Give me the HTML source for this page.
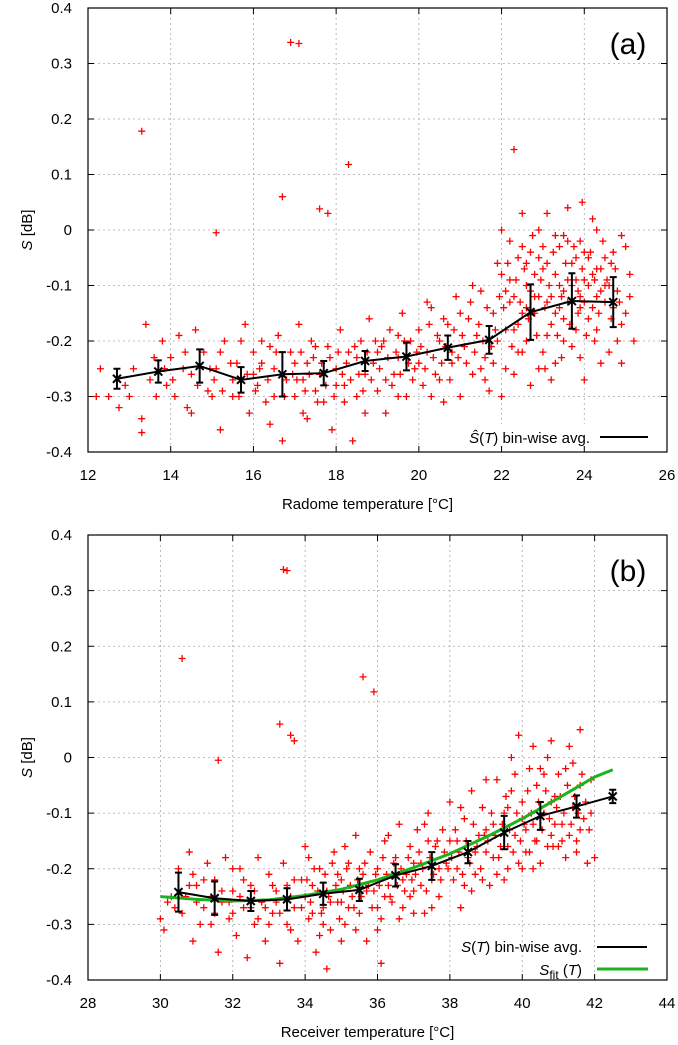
<!DOCTYPE html>
<html><head><meta charset="utf-8"><style>
html,body{margin:0;padding:0;background:#fff;}
svg{display:block;font-family:"Liberation Sans",sans-serif;}
</style></head><body>
<svg id="fig" width="678" height="1045"></svg>
<script>
// ---------- data ----------
const binXA=[12.7,13.7,14.7,15.7,16.7,17.7,18.7,19.7,20.7,21.7,22.7,23.7,24.7];
const binYA=[-0.268,-0.255,-0.245,-0.27,-0.26,-0.258,-0.236,-0.228,-0.212,-0.198,-0.148,-0.128,-0.13];
const binEA=[0.018,0.02,0.03,0.023,0.04,0.022,0.018,0.025,0.022,0.025,0.05,0.05,0.045];
const binXB=[30.5,31.5,32.5,33.5,34.5,35.5,36.5,37.5,38.5,39.5,40.5,41.5,42.5];
const binYB=[-0.242,-0.253,-0.258,-0.255,-0.245,-0.238,-0.212,-0.195,-0.17,-0.135,-0.105,-0.088,-0.07];
const binEB=[0.035,0.03,0.018,0.02,0.02,0.02,0.02,0.025,0.02,0.03,0.025,0.02,0.012];
const fitX=[30,31,32,33,34,35,36,37,38,39,40,41,42,42.5];
const fitY=[-0.25,-0.255,-0.258,-0.256,-0.248,-0.237,-0.22,-0.198,-0.173,-0.143,-0.11,-0.073,-0.035,-0.022];
const yTicks=[0.4,0.3,0.2,0.1,0,-0.1,-0.2,-0.3,-0.4];
const yTickLabels=["0.4","0.3","0.2","0.1","0","-0.1","-0.2","-0.3","-0.4"];
const xTicksA=[12,14,16,18,20,22,24,26];
const xTicksB=[28,30,32,34,36,38,40,42,44];
const scatterA="12.3,-0.25;12.5,-0.3;12.2,-0.3;12.9,-0.28;13.0,-0.3;13.3,-0.34;13.3,-0.365;13.4,-0.17;13.6,-0.23;13.8,-0.2;13.9,-0.28;14.1,-0.3;14.3,-0.25;14.4,-0.32;14.6,-0.18;14.5,-0.33;14.8,-0.22;14.9,-0.29;15.1,-0.25;15.2,-0.36;15.3,-0.2;15.5,-0.3;15.6,-0.24;15.8,-0.17;15.9,-0.33;16.0,-0.22;16.1,-0.28;16.2,-0.2;16.3,-0.31;16.4,-0.35;16.5,-0.25;16.6,-0.19;16.7,-0.38;16.8,-0.27;16.9,-0.22;17.0,-0.3;17.1,-0.17;17.2,-0.33;17.3,-0.24;17.4,-0.2;17.5,-0.29;17.6,-0.26;17.7,-0.31;17.8,-0.21;17.9,-0.36;18.0,-0.25;18.1,-0.18;18.2,-0.28;18.3,-0.22;18.4,-0.38;18.5,-0.3;18.6,-0.2;18.7,-0.26;18.8,-0.16;18.9,-0.24;19.0,-0.29;19.1,-0.21;19.2,-0.33;19.3,-0.18;19.4,-0.26;19.5,-0.23;19.6,-0.15;19.7,-0.3;19.8,-0.2;19.9,-0.25;20.0,-0.18;20.1,-0.28;20.2,-0.22;20.3,-0.14;20.4,-0.26;20.5,-0.2;20.6,-0.31;20.7,-0.17;20.8,-0.24;20.9,-0.12;21.0,-0.3;21.1,-0.21;21.2,-0.16;21.3,-0.26;21.4,-0.19;21.5,-0.11;21.6,-0.23;21.7,-0.29;21.8,-0.15;21.9,-0.2;22.0,-0.08;22.1,-0.25;22.2,-0.13;22.3,-0.18;22.4,-0.05;22.5,-0.22;22.6,-0.1;22.7,-0.28;22.8,-0.15;22.9,0.0;23.0,-0.07;23.1,-0.19;23.2,-0.12;23.3,-0.24;23.4,-0.03;23.5,-0.16;23.6,-0.09;23.7,-0.21;23.8,-0.05;23.9,-0.14;24.0,-0.27;24.1,-0.1;24.2,0.02;24.3,-0.18;24.4,-0.07;24.5,-0.13;24.6,-0.22;24.7,-0.04;24.8,-0.11;24.9,-0.17;25.0,-0.03;25.1,-0.08;22.2,-0.02;22.6,-0.2;22.9,-0.12;23.1,-0.06;23.3,-0.15;23.5,-0.2;23.7,-0.1;23.9,-0.02;24.1,-0.16;24.3,-0.12;24.5,-0.05;22.4,-0.17;22.8,-0.08;23.2,-0.27;23.6,-0.13;24.0,-0.09;24.4,-0.24;22.7,-0.04;23.4,-0.1;24.2,-0.14;23.0,-0.22;23.8,-0.18;21.5,-0.25;21.0,-0.15;20.5,-0.27;19.5,-0.19;18.5,-0.23;17.5,-0.21;16.5,-0.3;15.5,-0.27;14.5,-0.26;13.5,-0.27;20.8,-0.22;21.8,-0.24;19.2,-0.27;18.2,-0.31;17.2,-0.27;16.2,-0.24;15.2,-0.22;14.2,-0.19;22.1,-0.11;22.5,-0.03;23.1,0.03;23.9,-0.23;24.6,-0.1;24.8,-0.2;25.0,-0.15;22.3,-0.26;23.5,-0.01;24.3,0.0;20.0,-0.24;20.3,-0.3;19.0,-0.22;18.0,-0.28;17.0,-0.24;16.0,-0.26;15.0,-0.3;14.0,-0.23;13.1,-0.25;13.3,0.178;16.9,0.338;17.1,0.336;18.3,0.118;16.7,0.06;17.6,0.038;17.8,0.03;15.1,-0.005;22.3,0.145";
const scatterA2="22.05,-0.14;22.15,-0.06;22.25,-0.21;22.35,-0.09;22.45,-0.13;22.55,-0.07;22.65,-0.16;22.75,-0.01;22.85,-0.19;22.95,-0.09;23.05,-0.14;23.15,-0.1;23.25,-0.04;23.35,-0.19;23.45,-0.12;23.55,-0.06;23.65,-0.17;23.75,-0.03;23.85,-0.11;23.95,-0.07;24.05,-0.19;24.15,-0.04;24.25,-0.09;24.35,-0.15;24.45,-0.02;24.55,-0.09;24.65,-0.16;24.75,-0.07;24.85,-0.13;22.1,-0.18;22.3,-0.12;22.5,-0.15;22.7,-0.11;22.9,-0.05;23.1,-0.13;23.3,-0.08;23.5,-0.11;23.7,-0.06;23.9,-0.12;24.1,-0.05;24.3,-0.07;24.5,-0.1;24.7,-0.14;23.0,-0.03;23.2,-0.17;23.4,-0.14;23.6,-0.02;23.8,-0.09;24.0,-0.13;24.2,-0.08;24.4,-0.11;22.2,-0.09;22.4,-0.22;22.6,-0.06;22.8,-0.12;23.05,-0.25;23.45,-0.23;23.85,-0.15;24.25,-0.2;24.65,-0.06;22.6,-0.14;23.3,-0.01;24.0,-0.04;21.05,-0.19;21.15,-0.24;21.25,-0.13;21.35,-0.22;21.45,-0.17;21.55,-0.2;21.65,-0.14;21.75,-0.21;21.85,-0.18;21.95,-0.12;20.05,-0.21;20.15,-0.25;20.25,-0.17;20.35,-0.23;20.45,-0.19;20.55,-0.24;20.65,-0.21;20.75,-0.27;20.85,-0.18;20.95,-0.23;19.05,-0.25;19.15,-0.2;19.25,-0.23;19.35,-0.28;19.45,-0.22;19.55,-0.26;19.65,-0.2;19.75,-0.24;19.85,-0.27;19.95,-0.22;18.05,-0.22;18.15,-0.26;18.25,-0.24;18.35,-0.27;18.45,-0.21;18.55,-0.26;18.65,-0.29;18.75,-0.22;18.85,-0.27;18.95,-0.2;17.05,-0.27;17.15,-0.22;17.25,-0.29;17.35,-0.26;17.45,-0.23;17.55,-0.31;17.65,-0.24;17.75,-0.28;17.85,-0.23;17.95,-0.3;16.05,-0.29;16.15,-0.25;16.35,-0.27;16.55,-0.22;16.75,-0.3;16.95,-0.26;15.05,-0.27;15.25,-0.29;15.45,-0.24;15.65,-0.3;15.85,-0.26;14.05,-0.27;14.35,-0.22;14.65,-0.28;14.95,-0.25;13.65,-0.3;13.85,-0.25;12.75,-0.32;21.3,-0.1;21.6,-0.27;20.2,-0.13;20.6,-0.16;19.5,-0.3;18.7,-0.33;17.3,-0.34;16.4,-0.21;15.7,-0.2;22.0,-0.3;22.9,-0.25;24.9,-0.24;25.1,-0.12;25.2,-0.2;24.9,-0.01;22.5,0.03;23.6,0.04;23.95,0.05;22.0,0.0;21.9,-0.06";
const scatterB="30.0,-0.29;30.1,-0.31;30.3,-0.25;30.5,-0.2;30.6,-0.28;30.8,-0.17;30.9,-0.33;31.0,-0.23;31.2,-0.27;31.3,-0.19;31.4,-0.3;31.5,-0.22;31.6,-0.35;31.7,-0.26;31.8,-0.18;31.9,-0.29;32.0,-0.24;32.1,-0.32;32.2,-0.2;32.3,-0.27;32.4,-0.36;32.5,-0.23;32.6,-0.3;32.7,-0.18;32.8,-0.26;32.9,-0.33;33.0,-0.21;33.1,-0.28;33.2,-0.24;33.3,-0.37;33.4,-0.19;33.5,-0.3;33.6,-0.25;33.7,-0.22;33.8,-0.33;33.9,-0.27;34.0,-0.16;34.1,-0.29;34.2,-0.23;34.3,-0.35;34.4,-0.2;34.5,-0.27;34.6,-0.24;34.7,-0.31;34.8,-0.17;34.9,-0.26;35.0,-0.22;35.1,-0.3;35.2,-0.19;35.3,-0.25;35.4,-0.14;35.5,-0.28;35.6,-0.21;35.7,-0.33;35.8,-0.17;35.9,-0.24;36.0,-0.2;36.1,-0.29;36.2,-0.15;36.3,-0.23;36.4,-0.26;36.5,-0.18;36.6,-0.12;36.7,-0.27;36.8,-0.21;36.9,-0.16;37.0,-0.24;37.1,-0.13;37.2,-0.19;37.3,-0.28;37.4,-0.1;37.5,-0.22;37.6,-0.16;37.7,-0.25;37.8,-0.13;37.9,-0.19;38.0,-0.08;38.1,-0.22;38.2,-0.15;38.3,-0.27;38.4,-0.11;38.5,-0.18;38.6,-0.06;38.7,-0.21;38.8,-0.14;38.9,-0.09;39.0,-0.17;39.1,-0.23;39.2,-0.12;39.3,-0.04;39.4,-0.16;39.5,-0.1;39.6,-0.2;39.7,-0.06;39.8,-0.14;39.9,0.04;40.0,-0.08;40.1,-0.17;40.2,-0.02;40.3,-0.12;40.4,-0.05;40.5,-0.19;40.6,-0.1;40.7,0.0;40.8,-0.14;40.9,-0.07;41.0,-0.03;41.1,-0.12;41.2,-0.18;41.3,0.02;41.4,-0.09;41.5,-0.15;41.6,-0.05;41.7,-0.11;41.8,-0.19;41.9,-0.04;40.3,-0.2;40.6,-0.03;41.0,-0.16;41.4,-0.01;39.5,-0.22;39.8,-0.03;40.1,-0.13;40.8,-0.08;41.3,-0.14;39.2,-0.18;38.7,-0.17;38.2,-0.2;37.7,-0.2;37.2,-0.23;36.7,-0.22;36.2,-0.25;35.7,-0.24;35.2,-0.27;34.7,-0.26;34.2,-0.28;33.7,-0.27;33.2,-0.26;32.7,-0.29;32.2,-0.25;31.7,-0.24;31.2,-0.22;30.7,-0.25;36.0,-0.31;35.5,-0.2;34.5,-0.3;33.5,-0.23;32.5,-0.27;37.0,-0.19;38.0,-0.15;39.0,-0.13;40.0,-0.11;41.6,-0.13;40.4,-0.15;39.6,-0.16;38.4,-0.23;37.4,-0.15;36.4,-0.21;35.0,-0.26;34.0,-0.25;33.0,-0.3;32.0,-0.2;31.0,-0.26;30.4,-0.27;30.6,0.178;33.4,0.338;33.5,0.336;35.9,0.118;35.6,0.145;33.3,0.06;33.6,0.04;33.7,0.03;31.6,-0.005;36.1,-0.37;34.6,-0.38";
const scatterB2="34.05,-0.22;34.15,-0.26;34.25,-0.2;34.35,-0.24;34.45,-0.28;34.55,-0.21;34.65,-0.25;34.75,-0.19;34.85,-0.23;34.95,-0.29;35.05,-0.24;35.15,-0.2;35.25,-0.23;35.35,-0.27;35.45,-0.22;35.55,-0.25;35.65,-0.19;35.75,-0.23;35.85,-0.27;35.95,-0.21;36.05,-0.23;36.15,-0.18;36.25,-0.21;36.35,-0.25;36.45,-0.19;36.55,-0.23;36.65,-0.2;36.75,-0.24;36.85,-0.18;36.95,-0.22;37.05,-0.21;37.15,-0.17;37.25,-0.2;37.35,-0.24;37.45,-0.18;37.55,-0.21;37.65,-0.15;37.75,-0.22;37.85,-0.17;37.95,-0.2;38.05,-0.18;38.15,-0.13;38.25,-0.17;38.35,-0.21;38.45,-0.15;38.55,-0.19;38.65,-0.12;38.75,-0.16;38.85,-0.2;38.95,-0.14;39.05,-0.15;39.15,-0.1;39.25,-0.14;39.35,-0.18;39.45,-0.12;39.55,-0.07;39.65,-0.13;39.75,-0.17;39.85,-0.1;39.95,-0.15;40.05,-0.12;40.15,-0.06;40.25,-0.1;40.35,-0.15;40.45,-0.08;40.55,-0.13;40.65,-0.06;40.75,-0.11;40.85,-0.16;40.95,-0.09;41.05,-0.07;41.15,-0.1;41.25,-0.05;41.35,-0.12;41.45,-0.07;41.55,-0.1;41.65,-0.03;41.75,-0.08;41.85,-0.13;40.2,-0.17;40.5,-0.02;40.9,-0.12;41.2,-0.02;39.6,-0.09;39.9,-0.19;40.7,-0.16;41.5,-0.17;39.3,-0.21;38.6,-0.24;37.5,-0.27;36.6,-0.29;35.4,-0.31;34.4,-0.32;33.6,-0.31;32.9,-0.27;32.3,-0.22;31.9,-0.26;31.5,-0.28;31.1,-0.3;30.8,-0.23;30.2,-0.26;33.1,-0.23;33.9,-0.22;32.6,-0.24;31.4,-0.25;30.9,-0.21;32.0,-0.28;33.3,-0.28;34.1,-0.18;35.1,-0.16;36.3,-0.14;37.3,-0.12;38.3,-0.09;39.0,-0.04;37.0,-0.28;36.0,-0.27;35.0,-0.33;34.9,-0.21;36.9,-0.25;38.9,-0.22;40.0,-0.2;41.1,-0.15;41.9,-0.1;42.0,-0.18;40.3,0.02;40.8,0.03;41.6,0.05;39.7,0.0";

// ---------- drawing ----------
const NS="http://www.w3.org/2000/svg";
const svg=document.getElementById('fig');
function mk(tag,attrs,parent){const e=document.createElementNS(NS,tag);for(const k in attrs)e.setAttribute(k,attrs[k]);(parent||svg).appendChild(e);return e;}
const L=88,R=667;
function parse(s){return s.split(';').map(p=>p.split(',').map(Number));}

function panel(cfg){
  const g=mk('g',{});
  
  
  const xs=v=>L+(v-cfg.x0)/(cfg.x1-cfg.x0)*(R-L);
  const ys=v=>cfg.bot-(v+0.4)/0.8*(cfg.bot-cfg.top);
  cfg.xt.forEach(t=>{const x=xs(t);
    if(t>cfg.x0&&t<cfg.x1){const l=mk('line',{x1:x,x2:x,y1:cfg.top,y2:cfg.bot,stroke:'#aaa','stroke-dasharray':'2,3','stroke-width':0.8},g);
      }
    const tl=mk('text',{x:x,y:cfg.bot+28,'text-anchor':'middle','font-size':15,fill:'#000'},g);tl.textContent=t;
    
    mk('line',{x1:x,x2:x,y1:cfg.bot,y2:cfg.bot-6,stroke:'#000'},g);mk('line',{x1:x,x2:x,y1:cfg.top,y2:cfg.top+6,stroke:'#000'},g);
  });
  yTicks.forEach((t,i)=>{const y=ys(t);
    if(t<0.4&&t>-0.4){const l=mk('line',{x1:L,x2:R,y1:y,y2:y,stroke:'#aaa','stroke-dasharray':'2,3','stroke-width':0.8},g);
      }
    const tl=mk('text',{x:72,y:y+5,'text-anchor':'end','font-size':15,fill:'#000'},g);tl.textContent=yTickLabels[i];
    
    mk('line',{x1:L,x2:L+6,y1:y,y2:y,stroke:'#000'},g);mk('line',{x1:R,x2:R-6,y1:y,y2:y,stroke:'#000'},g);
  });
  const pts=parse(cfg.scatter).concat(parse(cfg.scatter2));
  const sg=mk('g',{stroke:'#f00','stroke-width':1.3},g);
  
  pts.forEach(p=>{const x=xs(p[0]),y=ys(p[1]);
    const pp=mk('path',{d:`M${x-3.5},${y}h7M${x},${y-3.5}v7`},sg);
    });
  if(cfg.fitX){const d=cfg.fitX.map((v,i)=>(i?'L':'M')+xs(v)+','+ys(cfg.fitY[i])).join('');
    const f=mk('path',{d:d,stroke:'#1bb31b','stroke-width':3,fill:'none'},g);
    }
  const d=cfg.bx.map((v,i)=>(i?'L':'M')+xs(v)+','+ys(cfg.by[i])).join('');
  const bl=mk('path',{d:d,stroke:'#000','stroke-width':2,fill:'none'},g);
  
  cfg.bx.forEach((v,i)=>{const x=xs(v),y1=ys(cfg.by[i]+cfg.be[i]),y2=ys(cfg.by[i]-cfg.be[i]),y=ys(cfg.by[i]);
    const eb=mk('path',{d:`M${x},${y1}V${y2}M${x-3.5},${y1}h7M${x-3.5},${y2}h7M${x-4},${y-4}l8,8M${x+4},${y-4}l-8,8`,stroke:'#000','stroke-width':2,fill:'none'},g);
    });
  const fr=mk('rect',{x:L,y:cfg.top,width:R-L,height:cfg.bot-cfg.top,fill:'none',stroke:'#000','stroke-width':1.2},g);
  
  const xt=mk('text',{x:(L+R)/2-10,y:cfg.bot+57,'text-anchor':'middle','font-size':15},g);xt.textContent=cfg.xtitle;
  
  const yt=mk('text',{x:0,y:0,'text-anchor':'middle','font-size':15,transform:`translate(32,${(cfg.top+cfg.bot)/2}) rotate(-90)`},g);
  yt.innerHTML='<tspan font-style="italic">S</tspan> [dB]';
  
  const pl=mk('text',{x:628,y:cfg.top+46,'text-anchor':'middle','font-size':30},g);pl.textContent=cfg.label;
  
  return {g,xs,ys};
}

const a=panel({name:'panel-a',x0:12,x1:26,top:8,bot:452,xt:xTicksA,scatter:scatterA,scatter2:scatterA2,bx:binXA,by:binYA,be:binEA,xtitle:'Radome temperature [°C]',label:'(a)'});
const la=mk('g',{},a.g);
mk('rect',{x:465,y:424,width:195,height:22,fill:'#fff'},la);
const lt=mk('text',{x:590,y:443,'text-anchor':'end','font-size':15},la);lt.innerHTML='<tspan font-style="italic">Ŝ</tspan>(<tspan font-style="italic">T</tspan>) bin-wise avg.';
mk('line',{x1:600,x2:648,y1:437,y2:437,stroke:'#000','stroke-width':2},la);

const b=panel({name:'panel-b',x0:28,x1:44,top:535,bot:980,xt:xTicksB,scatter:scatterB,scatter2:scatterB2,bx:binXB,by:binYB,be:binEB,fitX:fitX,fitY:fitY,xtitle:'Receiver temperature [°C]',label:'(b)'});
const lb1=mk('g',{},b.g);
const t1=mk('text',{x:582,y:952,'text-anchor':'end','font-size':15},lb1);t1.innerHTML='<tspan font-style="italic">S</tspan>(<tspan font-style="italic">T</tspan>) bin-wise avg.';
mk('line',{x1:597,x2:647,y1:947,y2:947,stroke:'#000','stroke-width':2},lb1);
const lb2=mk('g',{},b.g);
const t2=mk('text',{x:582,y:975,'text-anchor':'end','font-size':15},lb2);t2.innerHTML='<tspan font-style="italic">S</tspan><tspan font-size="12" dy="4">fit</tspan><tspan dy="-4"> (</tspan><tspan font-style="italic">T</tspan>)';
mk('line',{x1:597,x2:648,y1:969,y2:969,stroke:'#1bb31b','stroke-width':3},lb2);
</script>
</body></html>
